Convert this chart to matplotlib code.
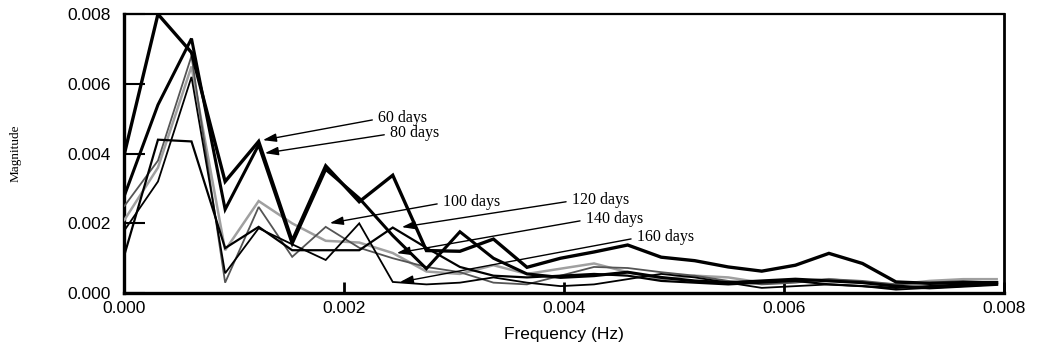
import matplotlib
matplotlib.use("Agg")
import matplotlib.pyplot as plt

# Frequency grid (Hz)
freq = [0.0, 0.000305, 0.000610, 0.000916, 0.001221, 0.001526, 0.001831, 0.002136,
        0.002441, 0.002747, 0.003052, 0.003357, 0.003662, 0.003967, 0.004272, 0.004578,
        0.004883, 0.005188, 0.005493, 0.005798, 0.006104, 0.006409, 0.006714, 0.007019,
        0.007324, 0.007629, 0.007935]

# Magnitudes
mag_60 = [0.00400, 0.00800, 0.00690, 0.00320, 0.00435, 0.00150, 0.00365, 0.00262,
          0.00338, 0.00122, 0.00120, 0.00155, 0.00074, 0.00100, 0.00118, 0.00138,
          0.00103, 0.00093, 0.00075, 0.00063, 0.00080, 0.00114, 0.00085, 0.00032,
          0.00028, 0.00030, 0.00030]
mag_80 = [0.00280, 0.00540, 0.00730, 0.00240, 0.00425, 0.00142, 0.00355, 0.00272,
          0.00165, 0.00070, 0.00176, 0.00100, 0.00055, 0.00045, 0.00050, 0.00060,
          0.00045, 0.00035, 0.00030, 0.00035, 0.00040, 0.00035, 0.00030, 0.00020,
          0.00015, 0.00020, 0.00025]
mag_100 = [0.00250, 0.00380, 0.00680, 0.00030, 0.00247, 0.00104, 0.00190, 0.00130,
           0.00100, 0.00075, 0.00060, 0.00030, 0.00025, 0.00050, 0.00075, 0.00072,
           0.00060, 0.00050, 0.00035, 0.00025, 0.00030, 0.00040, 0.00035, 0.00025,
           0.00030, 0.00035, 0.00030]
mag_120 = [0.00110, 0.00440, 0.00435, 0.00129, 0.00190, 0.00123, 0.00123, 0.00123,
           0.00188, 0.00130, 0.00075, 0.00050, 0.00045, 0.00050, 0.00055, 0.00050,
           0.00035, 0.00030, 0.00025, 0.00030, 0.00035, 0.00025, 0.00020, 0.00015,
           0.00020, 0.00025, 0.00030]
mag_140 = [0.00210, 0.00360, 0.00650, 0.00123, 0.00264, 0.00200, 0.00150, 0.00145,
           0.00115, 0.00062, 0.00055, 0.00080, 0.00055, 0.00070, 0.00085, 0.00060,
           0.00040, 0.00050, 0.00045, 0.00030, 0.00035, 0.00040, 0.00030, 0.00025,
           0.00035, 0.00040, 0.00040]
mag_160 = [0.00180, 0.00320, 0.00620, 0.00057, 0.00186, 0.00140, 0.00095, 0.00200,
           0.00032, 0.00025, 0.00030, 0.00045, 0.00030, 0.00020, 0.00025, 0.00040,
           0.00055, 0.00045, 0.00030, 0.00015, 0.00020, 0.00025, 0.00020, 0.00010,
           0.00015, 0.00020, 0.00025]

labels = ["60 days", "80 days", "100 days", "120 days", "140 days", "160 days"]
series = [mag_60, mag_80, mag_100, mag_120, mag_140, mag_160]

x_ticks = [0.000, 0.002, 0.004, 0.006, 0.008]
y_ticks = [0.000, 0.002, 0.004, 0.006, 0.008]

styles = [
    dict(color="black", lw=2.4, zorder=6),
    dict(color="black", lw=2.2, zorder=5),
    dict(color="#555555", lw=1.3, zorder=4),
    dict(color="black", lw=1.6, zorder=4),
    dict(color="#a0a0a0", lw=1.8, zorder=3),
    dict(color="black", lw=1.3, zorder=4),
]

fig = plt.figure(figsize=(10.37, 3.54), dpi=100)
ax = fig.add_axes([0.120, 0.172, 0.848, 0.788])

for s, st in zip(series, styles):
    ax.plot(freq, s, solid_joinstyle="miter", **st)

ax.set_xlim(0, 0.008)
ax.set_ylim(0, 0.008)
ax.set_xticks(x_ticks)
ax.set_yticks(y_ticks)
ax.set_xticklabels([f"{v:.3f}" for v in x_ticks], family="Liberation Sans", fontsize=12.5)
ax.set_yticklabels([f"{v:.3f}" for v in y_ticks], family="Liberation Sans", fontsize=12.5)
ax.tick_params(axis="x", direction="in", length=8, width=2, pad=6, top=False)
ax.tick_params(axis="y", direction="in", length=15, width=1.5, pad=10, right=False)
for side in ["left", "bottom"]:
    ax.spines[side].set_linewidth(2.4)
ax.spines["right"].set_linewidth(2.0)
ax.spines["top"].set_linewidth(1.6)

ax.set_xlabel("Frequency (Hz)", family="Liberation Sans", fontsize=12.5)
ax.xaxis.set_label_coords(0.5, -0.12)
ax.set_ylabel("Magnitude", family="Liberation Serif", fontsize=9.5)
ax.yaxis.set_label_coords(-0.117, 0.5)

# annotations: (label, arrow tip, text left-center)
ann = [
    ("60 days", (0.001259, 0.004387), (0.002305, 0.005018)),
    ("80 days", (0.001277, 0.004014), (0.002414, 0.004588)),
    ("100 days", (0.001868, 0.002007), (0.002895, 0.002609)),
    ("120 days", (0.002523, 0.001892), (0.004068, 0.002667)),
    ("140 days", (0.002477, 0.001147), (0.004195, 0.002122)),
    ("160 days", (0.002505, 0.000315), (0.004659, 0.001606)),
]
for lab, tip, txt in ann:
    ax.annotate(lab, xy=tip, xytext=txt, textcoords="data",
                ha="left", va="center", family="Liberation Serif", fontsize=11.5,
                zorder=10,
                arrowprops=dict(arrowstyle="-|>,head_length=0.7,head_width=0.22",
                                color="black", lw=1.0, relpos=(0, 0.45),
                                shrinkA=2, shrinkB=0))

fig.savefig("out.png", dpi=100)
